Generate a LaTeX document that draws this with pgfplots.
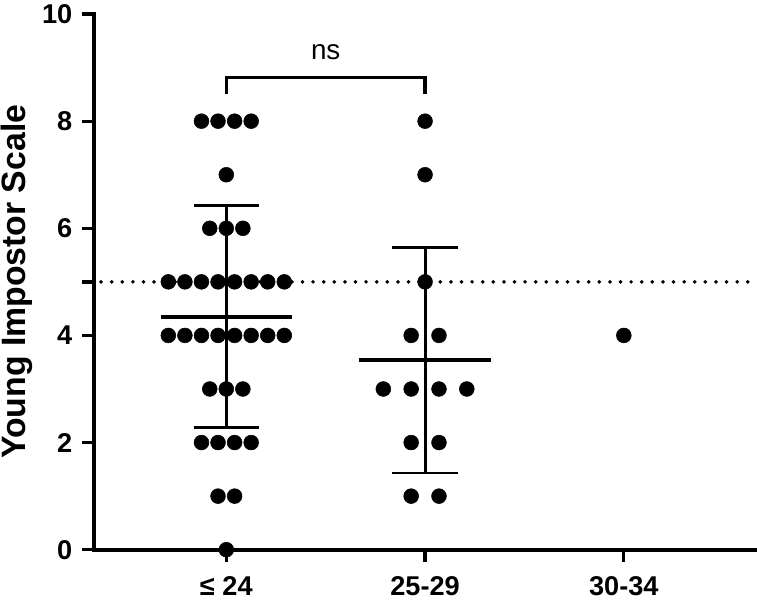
\documentclass[border=0pt]{standalone}
\usepackage{pgfplots}
\pgfplotsset{compat=1.18}
\usepackage{fontspec}
\setmainfont{Liberation Sans}

\begin{document}
\begin{tikzpicture}
\begin{axis}[
  scale only axis,
  width=498.75pt, height=404.25pt,
  xmin=-0.665, xmax=2.66, ymin=0, ymax=10,
  axis lines=left,
  axis line style={-, line width=3pt, line cap=rect},
  xtick={0,1,2}, xticklabels={≤ 24, 25-29, 30-34},
  ytick={0,2,...,10},
  extra y ticks={5}, extra y tick labels={},
  tick align=outside, major tick length=9pt,
  tick style={line width=2.5pt, black},
  ticklabel style={font=\fontsize{20.5}{24}\selectfont\bfseries},
  xticklabel style={yshift=-8pt},
  yticklabel style={xshift=-4pt},
  /pgf/number format/assume math mode=true,
  ylabel={Young Impostor Scale},
  ylabel style={font=\fontsize{25.5}{30}\selectfont\bfseries, inner sep=1pt,
    at={(axis description cs:-0.1165,0.5)}, anchor=center},
  clip=false,
]
% reference line at 5
\addplot[black, line width=3pt, line cap=round, dash pattern=on 0pt off 8pt]
  coordinates {(-0.63,5) (2.66,5)};

% <= 24
\addplot[only marks, mark=*, mark size=5.6pt, black] coordinates {
  (-0.125,8) (-0.0417,8) (0.0417,8) (0.125,8)
  (0,7)
  (-0.0833,6) (0,6) (0.0833,6)
  (-0.2917,5) (-0.2083,5) (-0.125,5) (-0.0417,5) (0.0417,5) (0.125,5) (0.2083,5) (0.2917,5)
  (-0.2917,4) (-0.2083,4) (-0.125,4) (-0.0417,4) (0.0417,4) (0.125,4) (0.2083,4) (0.2917,4)
  (-0.0833,3) (0,3) (0.0833,3)
  (-0.125,2) (-0.0417,2) (0.0417,2) (0.125,2)
  (-0.0417,1) (0.0417,1)
  (0,0)
};
% 25-29
\addplot[only marks, mark=*, mark size=5.6pt, black] coordinates {
  (1,8) (1,7) (1,5)
  (0.93,4) (1.07,4)
  (0.79,3) (0.93,3) (1.07,3) (1.21,3)
  (0.93,2) (1.07,2)
  (0.93,1) (1.07,1)
};
% 30-34
\addplot[only marks, mark=*, mark size=5.6pt, black] coordinates {(2,4)};

% mean and SD, <= 24
\addplot[black, line width=3pt] coordinates {(-0.33,4.353) (0.33,4.353)};
\addplot[black, line width=2.2pt] coordinates {(0,2.28) (0,6.43)};
\addplot[black, line width=2.2pt] coordinates {(-0.165,6.43) (0.165,6.43)};
\addplot[black, line width=2.2pt] coordinates {(-0.165,2.28) (0.165,2.28)};
% mean and SD, 25-29
\addplot[black, line width=3pt] coordinates {(0.67,3.538) (1.33,3.538)};
\addplot[black, line width=2.2pt] coordinates {(1,1.432) (1,5.645)};
\addplot[black, line width=2.2pt] coordinates {(0.835,5.645) (1.165,5.645)};
\addplot[black, line width=2.2pt] coordinates {(0.835,1.432) (1.165,1.432)};

% significance bracket
\addplot[black, line width=2.5pt] coordinates {(0,8.5) (0,8.82) (1,8.82) (1,8.5)};
\node[font=\fontsize{21}{25}\selectfont] at (axis cs:0.5,9.28) {ns};
\end{axis}
\end{tikzpicture}
\end{document}
